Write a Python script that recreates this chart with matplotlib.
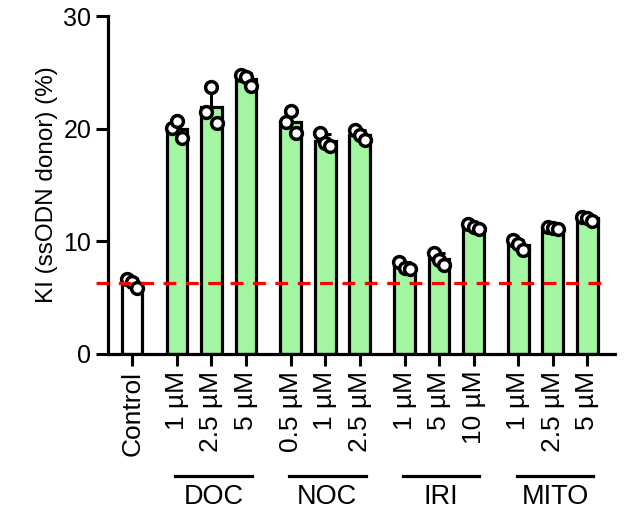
import numpy as np
import matplotlib.pyplot as plt
from matplotlib.lines import Line2D

plt.rcParams['font.family'] = ['Liberation Sans', 'DejaVu Sans']

# replicate values (%)
control = [6.7, 6.4, 5.9]
groups = ["DOC", "NOC", "IRI", "MITO"]
doses = [
    ["1 µM", "2.5 µM", "5 µM"],
    ["0.5 µM", "1 µM", "2.5 µM"],
    ["1 µM", "5 µM", "10 µM"],
    ["1 µM", "2.5 µM", "5 µM"],
]
reps = [
    [[20.1, 20.7, 19.2], [21.5, 23.7, 20.5], [24.8, 24.6, 23.8]],
    [[20.6, 21.6, 19.6], [19.6, 18.7, 18.5], [19.9, 19.4, 19.0]],
    [[8.2, 7.6, 7.5], [9.0, 8.3, 7.9], [11.5, 11.3, 11.1]],
    [[10.1, 9.8, 9.2], [11.3, 11.2, 11.1], [12.2, 12.1, 11.8]],
]

green = "#a3f7a3"
gap = 1.3

fig = plt.figure(figsize=(6.25, 5.17), dpi=100)
ax = fig.add_axes([0.1728, 0.3153, 0.811, 0.6537])

# positions
xs = [0.0]
labels = ["Control"]
series = [control]
colors = ["white"]
group_spans = []
x = 0.0
for g, ds, rs in zip(groups, doses, reps):
    x += gap
    start = x
    for i, (d, r) in enumerate(zip(ds, rs)):
        if i > 0:
            x += 1
        xs.append(x)
        labels.append(d)
        series.append(r)
        colors.append(green)
    group_spans.append((g, start, x))

means = [np.mean(s) for s in series]
sds = [np.std(s, ddof=1) for s in series]

ax.errorbar(xs, means, yerr=sds, fmt="none", ecolor="black", elinewidth=2.2,
            capsize=4, capthick=2.2, zorder=1)
ax.bar(xs, means, width=0.6, color=colors, edgecolor="black", linewidth=2.3, zorder=2)

jit = [-0.15, 0.0, 0.15]
for xi, s in zip(xs, series):
    ax.plot([xi + j for j in jit], s, "o", ms=8.5, mfc="white", mec="black",
            mew=2.5, zorder=3, clip_on=False)

# control mean reference line
ax.add_line(Line2D([-1.04, 13.86], [means[0]] * 2, color="red", lw=2.3,
                   dashes=(4, 3), clip_on=False, zorder=4))

ax.set_xlim(-0.7, 14.0)
ax.set_ylim(0, 30)
ax.set_yticks([0, 10, 20, 30])
ax.set_xticks(xs)
ax.set_xticklabels(labels, rotation=90)
ax.set_ylabel("KI (ssODN donor) (%)", fontsize=17.5)
ax.tick_params(axis="both", labelsize=18, length=8.5, width=2.2)
ax.tick_params(axis="x", labelsize=19)
for sp in ["top", "right"]:
    ax.spines[sp].set_visible(False)
for sp in ["left", "bottom"]:
    ax.spines[sp].set_linewidth(2.3)

tr = ax.get_xaxis_transform()
for g, a, b in group_spans:
    ax.add_line(Line2D([a - 0.05, b + 0.17], [-0.361, -0.361], transform=tr,
                       color="black", lw=2.3, clip_on=False))
    ax.text((a + b) / 2 + 0.06, -0.423, g, transform=tr, ha="center",
            va="center", fontsize=19.5)

fig.savefig("out.png", dpi=100)
